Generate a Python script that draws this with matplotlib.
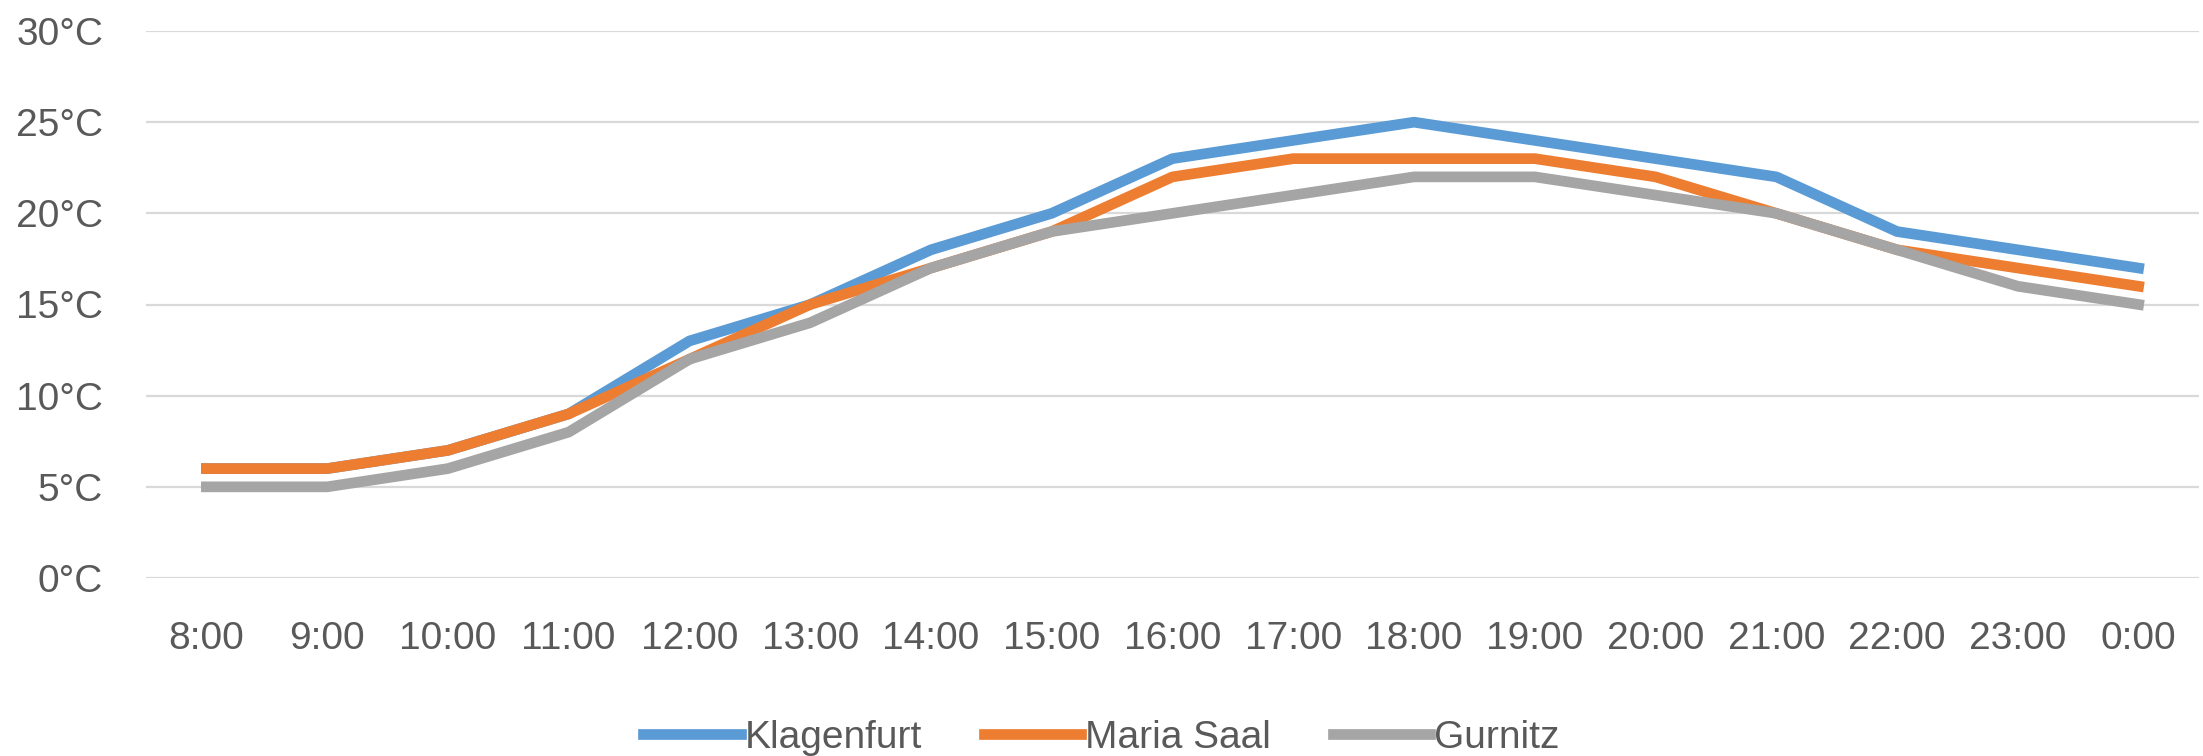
import matplotlib
matplotlib.use("Agg")
import matplotlib.pyplot as plt

hours = ["8:00", "9:00", "10:00", "11:00", "12:00", "13:00", "14:00", "15:00",
         "16:00", "17:00", "18:00", "19:00", "20:00", "21:00", "22:00", "23:00", "0:00"]
klagenfurt = [6, 6, 7, 9, 13, 15, 18, 20, 23, 24, 25, 24, 23, 22, 19, 18, 17]
maria_saal = [6, 6, 7, 9, 12, 15, 17, 19, 22, 23, 23, 23, 22, 20, 18, 17, 16]
gurnitz = [5, 5, 6, 8, 12, 14, 17, 19, 20, 21, 22, 22, 21, 20, 18, 16, 15]
y_ticks = [0, 5, 10, 15, 20, 25, 30]
y_labels = [f"{v}°C" for v in y_ticks]

series = [("Klagenfurt", klagenfurt, "#5B9BD5"),
          ("Maria Saal", maria_saal, "#ED7D31"),
          ("Gurnitz", gurnitz, "#A5A5A5")]

plt.rcParams['font.family'] = ['Liberation Sans', 'DejaVu Sans']
text_color = "#595959"

fig = plt.figure(figsize=(22.03, 7.56), dpi=100)
ax = fig.add_axes([146 / 2203, 1 - 578 / 756, (2199 - 146) / 2203, (578 - 31) / 756])

x = list(range(len(hours)))
for name, vals, col in series:
    ax.plot(x, vals, color=col, lw=7.7, label=name,
            solid_capstyle='projecting', solid_joinstyle='round')

ax.set_xlim(-0.5, len(hours) - 0.5)
ax.set_ylim(0, 30)
ax.set_yticks(y_ticks)
ax.set_yticklabels(y_labels)
ax.set_xticks(x)
ax.set_xticklabels(hours)
ax.grid(axis='y', color='#D9D9D9', lw=1.6)
ax.set_axisbelow(True)
for s in ax.spines.values():
    s.set_visible(False)
ax.tick_params(axis='both', length=0, labelsize=28, colors=text_color)
ax.tick_params(axis='y', pad=31)
ax.tick_params(axis='x', pad=31)

leg = fig.legend(loc='center', bbox_to_anchor=(0.5, 18 / 756), ncol=3, frameon=False,
                 fontsize=28, handlelength=2.5, handletextpad=0.1, columnspacing=1.6,
                 borderaxespad=0)
for t in leg.get_texts():
    t.set_color(text_color)

fig.savefig("out.png", dpi=100, facecolor='white')
